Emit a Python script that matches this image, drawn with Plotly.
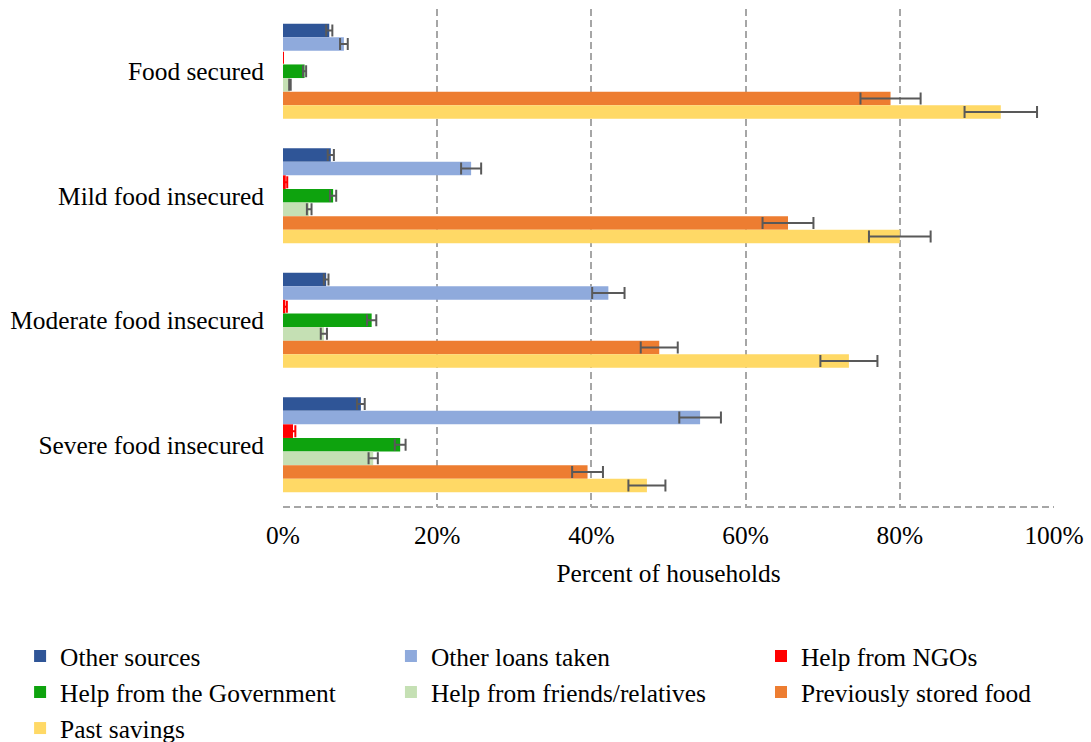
import plotly.graph_objects as go

# Food-security categories (top to bottom)
categories = ["Food secured", "Mild food insecured", "Moderate food insecured", "Severe food insecured"]

# Share of households (%) relying on each coping source, with error margins
other_sources = [6.0, 6.2, 5.6, 10.1]
other_sources_err = [0.4, 0.4, 0.3, 0.5]
other_loans = [7.9, 24.4, 42.2, 54.1]
other_loans_err = [0.5, 1.3, 2.1, 2.7]
help_ngos = [0.0, 0.35, 0.3, 1.3]
help_ngos_err = [0.0, 0.2, 0.2, 0.3]
help_government = [2.8, 6.5, 11.5, 15.2]
help_government_err = [0.2, 0.4, 0.6, 0.7]
help_friends = [0.9, 3.4, 5.3, 11.7]
help_friends_err = [0.1, 0.3, 0.4, 0.6]
stored_food = [78.8, 65.5, 48.8, 39.5]
stored_food_err = [3.9, 3.3, 2.4, 2.0]
past_savings = [93.1, 80.0, 73.4, 47.2]
past_savings_err = [4.7, 4.0, 3.7, 2.4]

x_ticks = [0, 20, 40, 60, 80, 100]
x_tick_labels = ["0%", "20%", "40%", "60%", "80%", "100%"]

# name, values, errors, bar colour, error-bar colour, legend column
series = [
    ("Other sources", other_sources, other_sources_err, "#2F5597", "#595959", "legend"),
    ("Other loans taken", other_loans, other_loans_err, "#8FAADC", "#595959", "legend2"),
    ("Help from NGOs", help_ngos, help_ngos_err, "#FF0000", "#FF0000", "legend3"),
    ("Help from the Government", help_government, help_government_err, "#0EA30E", "#595959", "legend"),
    ("Help from friends/relatives", help_friends, help_friends_err, "#C5E0B4", "#595959", "legend2"),
    ("Previously stored food", stored_food, stored_food_err, "#ED7D31", "#595959", "legend3"),
    ("Past savings", past_savings, past_savings_err, "#FFD966", "#595959", "legend"),
]

FONT = "Liberation Serif, Times New Roman, serif"
FONT_SIZE = 25.4

fig = go.Figure()
for name, vals, errs, color, ecolor, leg in series:
    fig.add_trace(go.Bar(
        name=name,
        y=categories,
        x=vals,
        orientation="h",
        legend=leg,
        marker=dict(color=color, line=dict(width=0)),
        error_x=dict(type="data", array=errs, visible=True,
                     color=ecolor, thickness=2, width=6),
    ))

# dashed bottom border of the plotting area
fig.add_shape(type="line", xref="x", yref="paper", x0=0, x1=100, y0=0, y1=0,
              line=dict(color="#A6A6A6", width=2, dash="7px,4px"), layer="below")

legend_common = dict(orientation="v", y=-0.253, yanchor="top", xanchor="left",
                     traceorder="normal", font=dict(family=FONT, size=FONT_SIZE),
                     itemwidth=30, bgcolor="rgba(0,0,0,0)")

fig.update_layout(
    width=1091, height=742,
    margin=dict(l=283, r=37, t=9, b=235, autoexpand=False),
    paper_bgcolor="white", plot_bgcolor="white",
    barmode="group", bargap=0.235, bargroupgap=0,
    font=dict(family=FONT, size=FONT_SIZE, color="black"),
    xaxis=dict(
        range=[0, 100], tickvals=x_ticks, ticktext=x_tick_labels,
        showgrid=True, gridcolor="#A6A6A6", gridwidth=2, griddash="7px,4px",
        zeroline=False, showline=False, ticks="", ticklabelstandoff=11,
        title=dict(text="Percent of households", standoff=15,
                   font=dict(family=FONT, size=FONT_SIZE)),
    ),
    yaxis=dict(
        autorange="reversed", showgrid=False, zeroline=False, showline=False,
        ticks="", ticklabelstandoff=18,
    ),
    legend=dict(x=-0.341, **legend_common),
    legend2=dict(x=0.140, **legend_common),
    legend3=dict(x=0.620, **legend_common),
)

fig.write_html("out.html")
